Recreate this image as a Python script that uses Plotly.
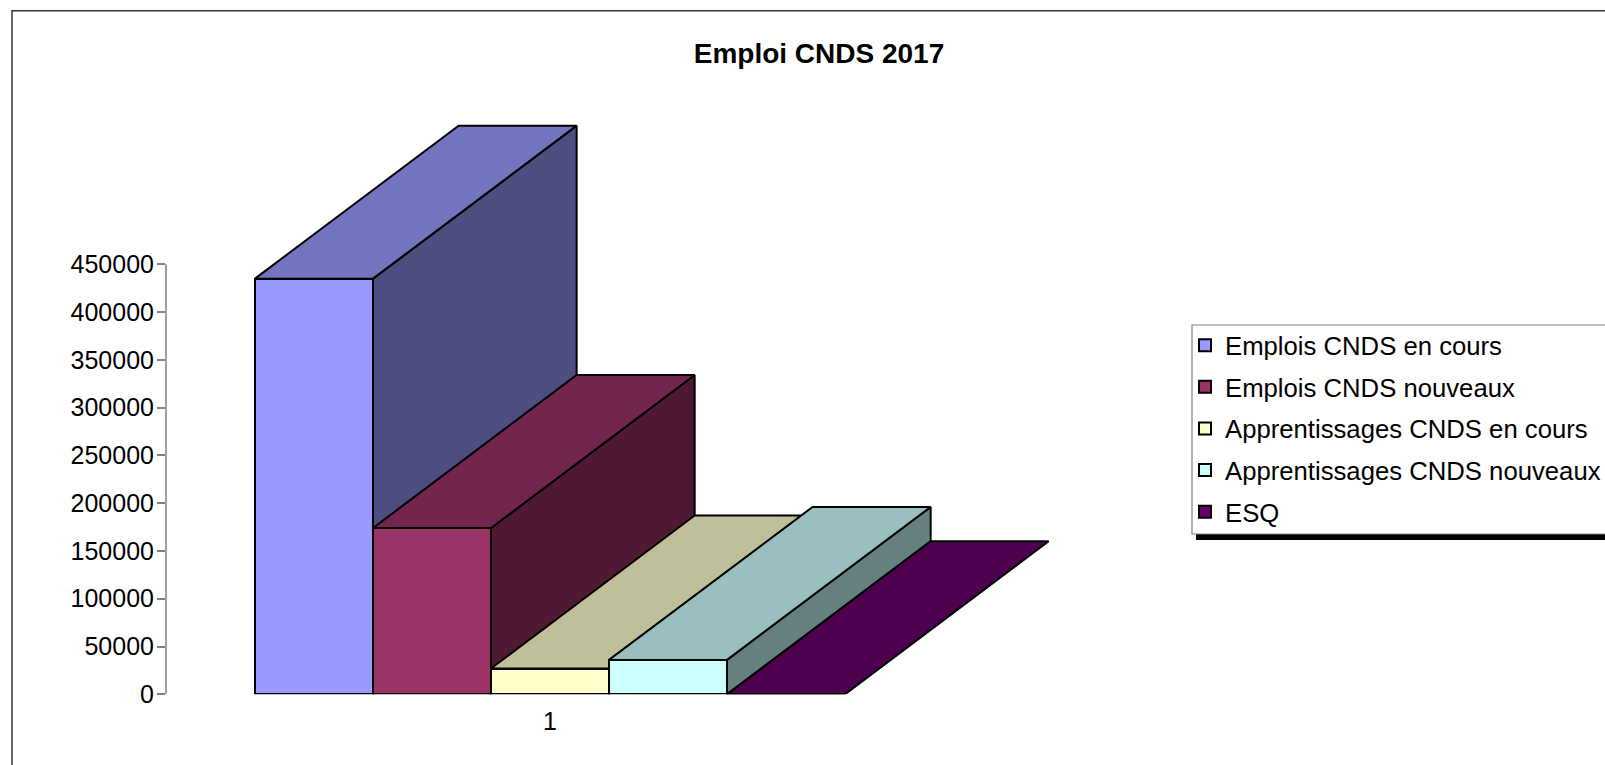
import plotly.graph_objects as go

# ---- data ----
TITLE = "Emploi CNDS 2017"
CATEGORY_LABELS = ["1"]
SERIES_NAMES = [
    "Emplois CNDS en cours",
    "Emplois CNDS nouveaux",
    "Apprentissages CNDS en cours",
    "Apprentissages CNDS nouveaux",
    "ESQ",
]
SERIES_VALUES = [435000, 174000, 27000, 36000, 0]
Y_TICKS = [0, 50000, 100000, 150000, 200000, 250000, 300000, 350000, 400000, 450000]

# ---- style ----
FRONT = ["#9999FF", "#993366", "#FFFFCC", "#CCFFFF", "#660066"]
TOP = ["#7373BF", "#73264D", "#BFBF99", "#99BFBF", "#4D004D"]
SIDE = ["#4D4D80", "#4D1933", "#808066", "#668080", "#330033"]
W, H = 1605, 765
FONT = "Liberation Sans, Arial, sans-serif"
EDGE = dict(color="#000000", width=2)
DEPTH_X = 0.3452      # perspective offset in x-axis units
DEPTH_Y = 160100      # perspective offset in y-axis units
BAR_W = 1 / len(SERIES_VALUES)
AXIS_TOP = 450000


def px(x):
    return x / W


def py(y):
    return 1 - y / H


fig = go.Figure()

# Side and top faces, left to right, on the base axes
for i, (name, v) in enumerate(zip(SERIES_NAMES, SERIES_VALUES)):
    left = -0.5 + i * BAR_W
    right = left + BAR_W
    if v > 0:
        fig.add_trace(go.Scatter(
            x=[right, right + DEPTH_X, right + DEPTH_X, right, right],
            y=[0, DEPTH_Y, v + DEPTH_Y, v, 0],
            mode="lines", fill="toself", fillcolor=SIDE[i], line=EDGE,
            showlegend=False, hoverinfo="skip",
        ))
    fig.add_trace(go.Scatter(
        x=[left, right, right + DEPTH_X, left + DEPTH_X, left],
        y=[v, v, v + DEPTH_Y, v + DEPTH_Y, v],
        mode="lines", fill="toself", fillcolor=TOP[i], line=EDGE,
        showlegend=False, hoverinfo="skip",
    ))

# Front faces on an overlaid pair of axes so that they paint above every other face
for i, (name, v) in enumerate(zip(SERIES_NAMES, SERIES_VALUES)):
    fig.add_trace(go.Bar(
        x=[0], y=[v], name=name, xaxis="x2", yaxis="y2",
        marker=dict(color=FRONT[i], line=EDGE),
        legendgroup=name, cliponaxis=False,
    ))

xr = [-0.6508, 0.9322]
yr = [0, AXIS_TOP * (694.3 - 100) / 430]
fig.update_layout(
    template="none",
    width=W, height=H,
    margin=dict(l=0, r=0, t=0, b=0, pad=0, autoexpand=False),
    paper_bgcolor="white", plot_bgcolor="rgba(0,0,0,0)",
    barmode="group", bargap=0, bargroupgap=0,
    font=dict(family=FONT, size=25, color="#000000"),
    title=dict(
        text=TITLE, x=px(819), y=py(53), xref="paper", yref="paper",
        xanchor="center", yanchor="middle",
        font=dict(family=FONT, size=28, weight=700, color="#000000"),
    ),
    xaxis=dict(
        domain=[px(166), px(1100)], range=xr, anchor="y",
        showgrid=False, zeroline=False, showline=False, ticks="",
        tickmode="array", tickvals=[0], ticktext=CATEGORY_LABELS,
        ticklabelstandoff=10, tickfont=dict(size=25),
    ),
    yaxis=dict(
        domain=[py(694.3), py(100)], range=yr, anchor="x",
        showgrid=False, zeroline=False, showline=False,
        ticks="outside", ticklen=8, tickwidth=1.5, tickcolor="#808080",
        tickmode="array", tickvals=Y_TICKS, tickfont=dict(size=25),
        tickformat="d", ticklabelstandoff=-2,
    ),
    xaxis2=dict(overlaying="x", anchor="y2", range=xr, visible=False),
    yaxis2=dict(overlaying="y", anchor="x2", range=yr, visible=False),
    legend=dict(
        x=px(1185), y=py(322), xanchor="left", yanchor="top",
        bgcolor="rgba(0,0,0,0)", borderwidth=0,
        font=dict(family=FONT, size=25.7, color="#000000"),
        tracegroupgap=5.2, traceorder="grouped",
    ),
    shapes=[
        # chart frame
        dict(type="rect", xref="paper", yref="paper", layer="below",
             x0=px(12), x1=1.02, y0=py(10.7), y1=-0.02,
             line=dict(color="#333333", width=1.5), fillcolor="white"),
        # value axis line
        dict(type="line", xref="paper", yref="y", layer="below",
             x0=px(166), x1=px(166), y0=0, y1=AXIS_TOP,
             line=dict(color="#808080", width=1.5)),
        # legend shadow and box
        dict(type="rect", xref="paper", yref="paper", layer="below",
             x0=px(1196), x1=1.02, y0=py(330), y1=py(540),
             line=dict(width=0), fillcolor="#000000"),
        dict(type="rect", xref="paper", yref="paper", layer="below",
             x0=px(1192), x1=1.02, y0=py(325), y1=py(534),
             line=dict(color="#808080", width=1.2), fillcolor="white"),
    ],
)

fig.write_html("out.html", config={"displayModeBar": False},
               post_script="document.body.style.margin='0';")
